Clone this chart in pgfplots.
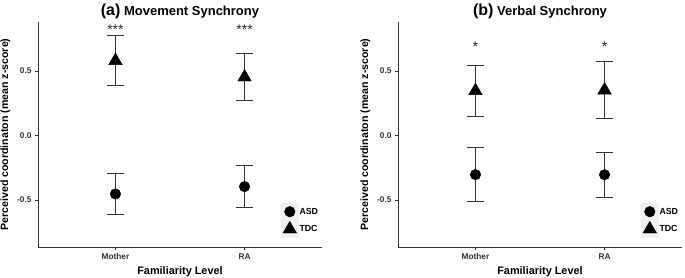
\documentclass[border=0pt]{standalone}
\usepackage{pgfplots}
\pgfplotsset{compat=1.18}
\usepackage{fontspec}
\setmainfont{Liberation Sans}

\pgfplotsset{
  panel/.style={
    scale only axis, width=284pt, height=225pt,
    xmin=0.4, xmax=2.6, ymin=-0.865, ymax=0.88,
    axis x line*=bottom, axis y line*=left,
    axis line style={black!80, line width=0.7pt},
    xtick={1,2}, xticklabels={Mother,RA},
    ytick={-0.5,0,0.5}, yticklabels={-0.5,0.0,0.5},
    tick style={black!80, line width=0.6pt},
    tick align=outside, major tick length=3pt,
    tick label style={font=\fontsize{8.3}{9}\selectfont\bfseries, text=black!80},
    xlabel={Familiarity Level},
    ylabel={Perceived coordinaton (mean z-score)},
    xlabel style={font=\fontsize{10.9}{12}\selectfont\bfseries},
    ylabel style={font=\fontsize{10.6}{11}\selectfont\bfseries},
    every axis title/.style={at={(0.5,1)}, anchor=base, yshift=7pt,
      font=\fontsize{13}{14}\selectfont\bfseries},
    legend style={at={(rel axis cs:0.856,0.04)}, anchor=south west, draw=none, fill=none,
      font=\fontsize{8.8}{9}\selectfont\bfseries, inner sep=0pt, row sep=0pt,
      nodes={inner sep=1.2pt}},
    legend cell align=left,
    legend image code/.code={%
      \fill[black!6] (-8.3pt,-8.5pt) rectangle (8.3pt,8.5pt);
      \draw[mark repeat=2,mark phase=2] plot coordinates {(-8pt,0pt)(0pt,0pt)(8pt,0pt)};},
  },
  ebar/.style={
    error bars/y dir=both, error bars/y explicit,
    error bars/error bar style={line width=0.85pt, black!80},
    error bars/error mark options={rotate=90, mark size=8.5pt, line width=0.85pt, black!80},
  },
  asd/.style={ebar, only marks, mark=*, mark size=5.3pt, black, mark options={fill=black}},
  tdc/.style={ebar, only marks, mark=triangle*, mark size=7.8pt, black, mark options={fill=black}},
}

\begin{document}
\begin{tikzpicture}
\useasboundingbox (0,0) rectangle (685pt,277pt);

\begin{axis}[panel, at={(38pt,30pt)}, anchor=south west,
  title={{\fontsize{16}{16}\selectfont (a)} Movement Synchrony}]
\addplot+[asd] coordinates {(1,-0.4535) +- (0,0.1615) (2,-0.3965) +- (0,0.1615)};
\addlegendentry{ASD}
\addplot+[tdc] coordinates {(1,0.580) +- (0,0.195) (2,0.4525) +- (0,0.1835)};
\addlegendentry{TDC}
\node[font=\fontsize{14}{14}\selectfont, text=black!85] at (axis cs:1,0.82) {***};
\node[font=\fontsize{14}{14}\selectfont, text=black!85] at (axis cs:2,0.82) {***};
\end{axis}

\begin{axis}[panel, at={(398pt,30pt)}, anchor=south west,
  title={{\fontsize{16}{16}\selectfont (b)} Verbal Synchrony}]
\addplot+[asd] coordinates {(1,-0.3035) +- (0,0.2105) (2,-0.3045) +- (0,0.1755)};
\addlegendentry{ASD}
\addplot+[tdc] coordinates {(1,0.3465) +- (0,0.1965) (2,0.3515) +- (0,0.2195)};
\addlegendentry{TDC}
\node[font=\fontsize{14}{14}\selectfont, text=black!85] at (axis cs:1,0.69) {*};
\node[font=\fontsize{14}{14}\selectfont, text=black!85] at (axis cs:2,0.69) {*};
\end{axis}
\end{tikzpicture}
\end{document}
